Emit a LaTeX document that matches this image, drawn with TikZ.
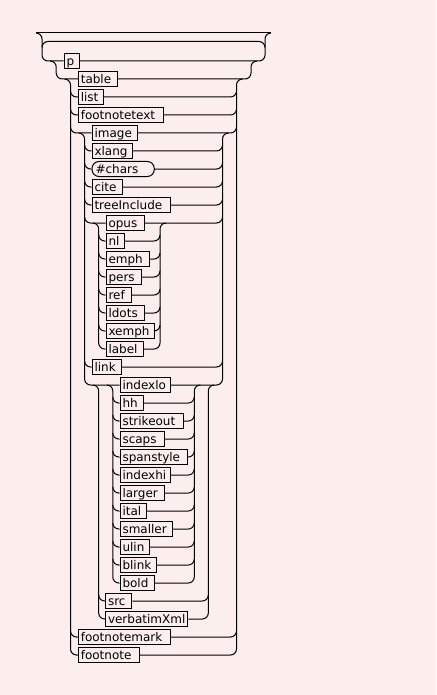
\documentclass[tikz,border=0pt]{standalone}
\usepackage{fontspec}
\newfontfamily\rrfont{DejaVu Sans}
\definecolor{bg}{RGB}{253,238,238}
\begin{document}
\begin{tikzpicture}[x=1pt,y=1pt,line width=1pt,
  term/.style={draw, fill=bg, anchor=west, minimum height=15pt, inner xsep=2.5pt, inner ysep=0pt,
    align=left, text height=9.5pt, text depth=0.5pt, font=\rrfont\fontsize{12}{14}\selectfont},
  roundterm/.style={term, rounded corners=7pt},
  wire/.style={draw, line width=1pt}]
\fill[bg] (0,0) rectangle (436,-695);
\useasboundingbox (0,0) rectangle (436,-695);
% terminal boxes
\foreach \i/\x/\w/\t in {
0/63/10.3/p, 1/77.3/34.4/table, 2/77.3/19.7/list, 3/77.3/80/footnotetext,
4/91/40.7/image, 5/91/35.3/xlang, 7/91/25.3/cite, 8/91/73/treeInclude,
9/105/33.3/opus, 10/105/13.3/nl, 11/105/38/emph, 12/105/30.7/pers, 13/105/20/ref,
14/105/33.3/ldots, 15/105/43.3/xemph, 16/105/32.3/label, 17/91/24/link,
18/119/45.7/indexlo, 19/119/18.3/hh, 20/119/58.3/strikeout, 21/119/39.3/scaps,
22/119/62.7/spanstyle, 23/119/45.7/indexhi, 24/119/39.3/larger, 25/119/21.7/ital,
26/119/47.7/smaller, 27/119/24.3/ulin, 28/119/31.7/blink, 29/119/29.3/bold,
30/104.5/21.3/src, 31/104.5/77.3/verbatimXml, 32/77.3/86.7/footnotemark, 33/77.3/56/footnote}
  \node[term, text width=\w pt] (n\i) at (\x+0.5,{-61-18*\i}) {\mbox{\t}};
\node[roundterm, text width=55.3pt, inner xsep=3.5pt] (n6) at (91.5,-169) {\mbox{\#chars}};
% top line, loop and outer rails
\draw[wire] (36,-33) -- (271,-33);
\draw[wire] (36,-33) arc[start angle=90,end angle=0,radius=6] -- (42,-55) arc[start angle=180,end angle=270,radius=6] -- (n0.west);
\draw[wire] (42,-47.5) arc[start angle=180,end angle=90,radius=6] -- (259,-41.5) arc[start angle=90,end angle=0,radius=6];
\draw[wire] (n0.east) -- (259,-61) arc[start angle=270,end angle=360,radius=6] -- (265,-39) arc[start angle=180,end angle=90,radius=6];
% choice p | rest
\draw[wire] (50.2,-61) arc[start angle=90,end angle=0,radius=6] -- (56.2,-73) arc[start angle=180,end angle=270,radius=6] -- (n1.west);
\draw[wire] (n1.east) -- (245,-79) arc[start angle=270,end angle=360,radius=6] -- (251,-67) arc[start angle=180,end angle=90,radius=6];
% choice table ... footnote
\draw[wire] (64.5,-79) arc[start angle=90,end angle=0,radius=6] -- (70.5,-649) arc[start angle=180,end angle=270,radius=6] -- (n33.west);
\draw[wire] (n33.east) -- (230.5,-655) arc[start angle=270,end angle=360,radius=6] -- (236.5,-85) arc[start angle=180,end angle=90,radius=6];
\foreach \i in {2,3,4,32} {
  \draw[wire] (70.5,{-55-18*\i}) arc[start angle=180,end angle=270,radius=6] -- (n\i.west);
  \draw[wire] (n\i.east) -- (230.5,{-61-18*\i}) arc[start angle=270,end angle=360,radius=6];
}
% choice image ... indexlo group
\draw[wire] (78.6,-133) arc[start angle=90,end angle=0,radius=6] -- (84.6,-379) arc[start angle=180,end angle=270,radius=6] -- (n18.west);
\draw[wire] (n18.east) -- (216.5,-385) arc[start angle=270,end angle=360,radius=6] -- (222.5,-139) arc[start angle=180,end angle=90,radius=6];
\foreach \i in {5,6,7,8,9,17} {
  \draw[wire] (84.6,{-55-18*\i}) arc[start angle=180,end angle=270,radius=6] -- (n\i.west);
  \draw[wire] (n\i.east) -- (216.5,{-61-18*\i}) arc[start angle=270,end angle=360,radius=6];
}
% choice opus ... label
\draw[wire] (92.7,-223) arc[start angle=90,end angle=0,radius=6] -- (98.7,-343) arc[start angle=180,end angle=270,radius=6] -- (n16.west);
\draw[wire] (n16.east) -- (154,-349) arc[start angle=270,end angle=360,radius=6] -- (160,-229) arc[start angle=180,end angle=90,radius=6];
\foreach \i in {10,...,15} {
  \draw[wire] (98.7,{-55-18*\i}) arc[start angle=180,end angle=270,radius=6] -- (n\i.west);
  \draw[wire] (n\i.east) -- (154,{-61-18*\i}) arc[start angle=270,end angle=360,radius=6];
}
% choice (indexlo group) | src | verbatimXml
\draw[wire] (92.7,-385) arc[start angle=90,end angle=0,radius=6] -- (98.7,-613) arc[start angle=180,end angle=270,radius=6] -- (n31.west);
\draw[wire] (n31.east) -- (202.3,-619) arc[start angle=270,end angle=360,radius=6] -- (208.3,-391) arc[start angle=180,end angle=90,radius=6];
\draw[wire] (98.7,-595) arc[start angle=180,end angle=270,radius=6] -- (n30.west);
\draw[wire] (n30.east) -- (202.3,-601) arc[start angle=270,end angle=360,radius=6];
% choice indexlo ... bold
\draw[wire] (106.8,-385) arc[start angle=90,end angle=0,radius=6] -- (112.8,-577) arc[start angle=180,end angle=270,radius=6] -- (n29.west);
\draw[wire] (n29.east) -- (188.3,-583) arc[start angle=270,end angle=360,radius=6] -- (194.3,-391) arc[start angle=180,end angle=90,radius=6];
\foreach \i in {19,...,28} {
  \draw[wire] (112.8,{-55-18*\i}) arc[start angle=180,end angle=270,radius=6] -- (n\i.west);
  \draw[wire] (n\i.east) -- (188.3,{-61-18*\i}) arc[start angle=270,end angle=360,radius=6];
}
\end{tikzpicture}
\end{document}
